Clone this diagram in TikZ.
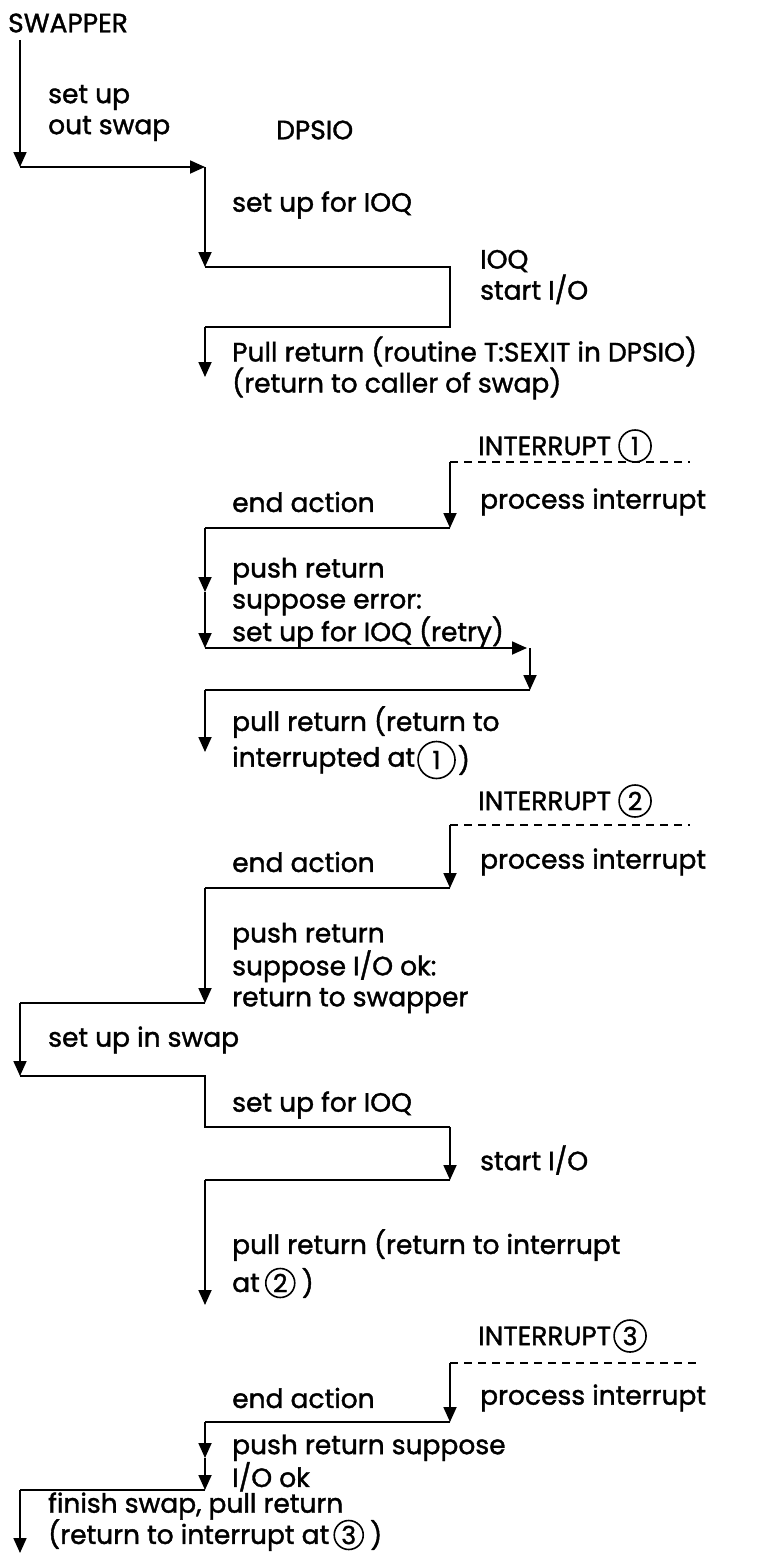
\documentclass[tikz,border=0pt]{standalone}
\usepackage{fontspec}
\setmainfont{Poppins}[FakeBold=1.4]
\usetikzlibrary{arrows.meta,positioning}
\tikzstyle{txt} = [anchor=west, inner sep=0pt, align=left, font=\fontsize{26.5}{31}\selectfont]
\tikzstyle{numc} = [draw, circle, inner sep=0pt, minimum size=32pt, line width=1.6pt, font=\fontsize{25}{26}\selectfont]
\tikzstyle{connect} = [line width=1.8pt, -{Triangle[length=15pt,width=13pt]}]
\tikzstyle{wire} = [line width=1.4pt]
\tikzstyle{tagline} = [line width=1.2pt, dash pattern=on 8pt off 6pt]

\begin{document}
\begin{tikzpicture}[x=1pt,y=-1pt]
\useasboundingbox (0,0) rectangle (765,1555);

% texts
\node (swapper) [txt] at (8,23) {SWAPPER};
\node (setout) [txt] at (48,113) {set up\\out swap};
\node (dpsio) [txt] at (276,130) {DPSIO};
\node (setioq) [txt] at (232,205) {set up for IOQ};
\node (ioq) [txt] at (480,277) {IOQ\\start I/O};
\node (pullret) [txt] at (232,368) {Pull return (routine T:SEXIT in DPSIO)\\(return to caller of swap)};

\node (intone) [txt] at (478,446) {INTERRUPT};
\node (cone) [numc, right=7pt of intone] {1};
\node (endone) [txt] at (232,502) {end action};
\node (procone) [txt] at (480,502) {process interrupt};
\node (pushone) [txt] at (232,603) {push return\\suppose error:\\set up for IOQ (retry)};
\node (pullone) [txt] at (232,722) {pull return (return to};
\node (atone) [txt] at (232,760) {interrupted at};
\node (conb) [numc, minimum size=37pt, right=2pt of atone] {1};
\node (closeone) [txt, right=2pt of conb] {)};

\node (inttwo) [txt] at (478,801) {INTERRUPT};
\node (ctwo) [numc, right=7pt of inttwo] {2};
\node (endtwo) [txt] at (232,862) {end action};
\node (proctwo) [txt] at (480,862) {process interrupt};
\node (pushtwo) [txt] at (232,968) {push return\\suppose I/O ok:\\return to swapper};
\node (setin) [txt] at (48,1040) {set up in swap};
\node (setioqb) [txt] at (232,1105) {set up for IOQ};
\node (startio) [txt] at (480,1160) {start I/O};
\node (pulltwo) [txt] at (232,1245) {pull return (return to interrupt};
\node (attwo) [txt] at (232,1283) {at};
\node (ctwob) [numc, minimum size=29pt, right=5pt of attwo] {2};
\node (closetwo) [txt, right=6pt of ctwob] {)};

\node (intthree) [txt] at (478,1336) {INTERRUPT};
\node (cthree) [numc, right=2pt of intthree] {3};
\node (endthree) [txt] at (232,1398) {end action};
\node (procthree) [txt] at (480,1398) {process interrupt};
\node (pushthree) [txt] at (232,1463) {push return suppose\\I/O ok};
\node (finish) [txt] at (48,1506) {finish swap, pull return};
\node (atthree) [txt] at (48,1535) {(return to interrupt at};
\node (cthreeb) [numc, minimum size=29pt, right=4pt of atthree] {3};
\node (closethree) [txt, right=6pt of cthreeb] {)};

% corners
\coordinate (k0) at (20,40);
\coordinate (k1) at (20,167);
\coordinate (k2) at (205,167);
\coordinate (k3) at (205,267);
\coordinate (k4) at (450,267);
\coordinate (k5) at (450,327);
\coordinate (k6) at (205,327);
\coordinate (k7) at (205,377);

\coordinate (i1) at (450,462);
\coordinate (i1e) at (690,462);
\coordinate (k8) at (450,528);
\coordinate (k9) at (205,528);
\coordinate (k10) at (205,592);
\coordinate (k11) at (205,648);
\coordinate (k12) at (527,648);
\coordinate (k12a) at (530,648);
\coordinate (k13) at (530,690);
\coordinate (k14) at (205,690);
\coordinate (k15) at (205,752);

\coordinate (i2) at (450,825);
\coordinate (i2e) at (690,825);
\coordinate (k16) at (450,888);
\coordinate (k17) at (205,888);
\coordinate (k18) at (205,1003);
\coordinate (k19) at (20,1003);
\coordinate (k20) at (20,1076);
\coordinate (k21) at (205,1076);
\coordinate (k22) at (205,1127);
\coordinate (k23) at (450,1127);
\coordinate (k24) at (450,1180);
\coordinate (k25) at (205,1180);
\coordinate (k26) at (205,1305);

\coordinate (i3) at (450,1363);
\coordinate (i3e) at (700,1363);
\coordinate (k27) at (450,1422);
\coordinate (k28) at (205,1422);
\coordinate (k29) at (205,1458);
\coordinate (k30) at (205,1490);
\coordinate (k31) at (20,1490);
\coordinate (k32) at (20,1553);

% flow
\draw[connect] (k0) -- (k1);
\draw[connect] (k1) -- (k2);
\draw[connect] (k2) -- (k3);
\draw[wire] (k3) -- (k4) -- (k5) -- (k6);
\draw[connect] (k6) -- (k7);

\draw[tagline] (i1) -- (i1e);
\draw[connect] (i1) -- (k8);
\draw[wire] (k8) -- (k9);
\draw[connect] (k9) -- (k10);
\draw[connect] (k10) -- (k11);
\draw[connect] (k11) -- (k12);
\draw[connect] (k12a) -- (k13);
\draw[wire] (k13) -- (k14);
\draw[connect] (k14) -- (k15);

\draw[tagline] (i2) -- (i2e);
\draw[connect] (i2) -- (k16);
\draw[wire] (k16) -- (k17);
\draw[connect] (k17) -- (k18);
\draw[wire] (k18) -- (k19);
\draw[connect] (k19) -- (k20);
\draw[wire] (k20) -- (k21) -- (k22) -- (k23);
\draw[connect] (k23) -- (k24);
\draw[wire] (k24) -- (k25);
\draw[connect] (k25) -- (k26);

\draw[tagline] (i3) -- (i3e);
\draw[connect] (i3) -- (k27);
\draw[wire] (k27) -- (k28);
\draw[connect] (k28) -- (k29);
\draw[connect] (k29) -- (k30);
\draw[wire] (k30) -- (k31);
\draw[connect] (k31) -- (k32);

\end{tikzpicture}
\end{document}
